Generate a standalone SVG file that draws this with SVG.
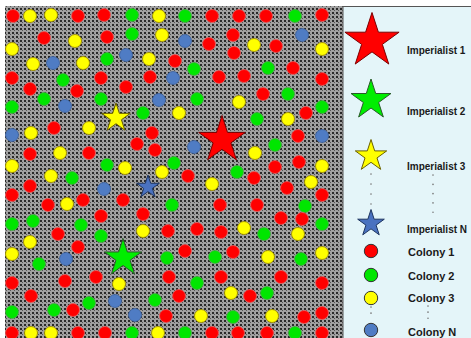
<svg xmlns="http://www.w3.org/2000/svg" xmlns:xlink="http://www.w3.org/1999/xlink" width="471" height="338" viewBox="0 0 471 338">
<style>
.r{fill:#ff0000;stroke:#e86060;stroke-width:0.8}
.g{fill:#00e600;stroke:#4aa84a;stroke-width:0.8}
.y{fill:#ffff00;stroke:#a09000;stroke-width:0.9}
.b{fill:#4f7cc4;stroke:#3b5f9a;stroke-width:0.8}
.sr{fill:#ff0000;stroke:#7a0000}
.sg{fill:#00ee00;stroke:#2a5a2a}
.sy{fill:#ffff00;stroke:#6a6000}
.sb{fill:#4a72c0;stroke:#1e3560}
.lc{stroke:#333;stroke-width:1}
.t{font-family:"Liberation Sans",Arial,sans-serif;font-weight:bold;font-size:11px;fill:#1a1a1a}
.ti{font-size:10px}
.dots{stroke:#777;stroke-width:1.6;stroke-linecap:round;fill:none}
</style>
<defs>
<pattern id="tex" width="4" height="4" patternUnits="userSpaceOnUse">
<rect width="4" height="4" fill="#a0a0a0"/>
<rect x="0" y="0" width="2" height="2" fill="#2a2a2a"/>
<rect x="2" y="2" width="1" height="1" fill="#555"/>
</pattern>
<path id="star" d="M0,-1 L0.2245,-0.309 L0.9511,-0.309 L0.3633,0.118 L0.5878,0.809 L0,0.382 L-0.5878,0.809 L-0.3633,0.118 L-0.9511,-0.309 L-0.2245,-0.309 Z" vector-effect="non-scaling-stroke" stroke-width="1"/>
</defs>
<rect width="471" height="338" fill="#ffffff"/>
<g id="map">
<rect x="5" y="6" width="338" height="332" fill="url(#tex)"/>
<g id="colonies">
<circle class="r" cx="13" cy="16" r="6.5"/><circle class="y" cx="30" cy="16" r="6.5"/><circle class="y" cx="51" cy="15" r="6.5"/><circle class="r" cx="78" cy="16" r="6.5"/><circle class="r" cx="104" cy="15" r="6.5"/><circle class="g" cx="132" cy="15" r="6.5"/><circle class="y" cx="159" cy="16" r="6.5"/><circle class="g" cx="185" cy="16" r="6.5"/><circle class="r" cx="212" cy="16" r="6.5"/><circle class="r" cx="239" cy="16" r="6.5"/><circle class="r" cx="266" cy="16" r="6.5"/><circle class="g" cx="295" cy="16" r="6.5"/><circle class="r" cx="322" cy="15" r="6.5"/>
<circle class="r" cx="44" cy="38" r="6.5"/><circle class="y" cx="75" cy="41" r="6.5"/><circle class="r" cx="107" cy="37" r="6.5"/><circle class="g" cx="132" cy="34" r="6.5"/><circle class="y" cx="12" cy="49" r="6.5"/><circle class="b" cx="126" cy="55" r="6.5"/><circle class="g" cx="107" cy="59" r="6.5"/><circle class="y" cx="149" cy="59" r="6.5"/><circle class="y" cx="33" cy="64" r="6.5"/><circle class="b" cx="53" cy="63" r="6.5"/><circle class="y" cx="83" cy="63" r="6.5"/><circle class="r" cx="12" cy="78" r="6.5"/><circle class="g" cx="63" cy="80" r="6.5"/><circle class="r" cx="101" cy="78" r="6.5"/><circle class="r" cx="126" cy="87" r="6.5"/><circle class="r" cx="150" cy="77" r="6.5"/><circle class="r" cx="30" cy="89" r="6.5"/><circle class="r" cx="77" cy="91" r="6.5"/><circle class="g" cx="44" cy="99" r="6.5"/><circle class="g" cx="101" cy="99" r="6.5"/><circle class="b" cx="159" cy="100" r="6.5"/><circle class="g" cx="12" cy="107" r="6.5"/><circle class="b" cx="65" cy="106" r="6.5"/><circle class="g" cx="143" cy="113" r="6.5"/>
<circle class="y" cx="162" cy="35" r="6.5"/><circle class="b" cx="185" cy="41" r="6.5"/><circle class="r" cx="209" cy="44" r="6.5"/><circle class="r" cx="233" cy="35" r="6.5"/><circle class="r" cx="234" cy="53" r="6.5"/><circle class="y" cx="254" cy="45" r="6.5"/><circle class="r" cx="276" cy="46" r="6.5"/><circle class="b" cx="302" cy="35" r="6.5"/><circle class="y" cx="322" cy="49" r="6.5"/><circle class="r" cx="175" cy="61" r="6.5"/><circle class="b" cx="173" cy="78" r="6.5"/><circle class="g" cx="194" cy="69" r="6.5"/><circle class="r" cx="219" cy="77" r="6.5"/><circle class="r" cx="244" cy="76" r="6.5"/><circle class="g" cx="268" cy="68" r="6.5"/><circle class="r" cx="293" cy="68" r="6.5"/><circle class="r" cx="322" cy="79" r="6.5"/><circle class="g" cx="197" cy="99" r="6.5"/><circle class="y" cx="239" cy="102" r="6.5"/><circle class="r" cx="263" cy="94" r="6.5"/><circle class="g" cx="288" cy="94" r="6.5"/><circle class="g" cx="322" cy="107" r="6.5"/><circle class="y" cx="179" cy="113" r="6.5"/><circle class="g" cx="257" cy="119" r="6.5"/><circle class="y" cx="288" cy="119" r="6.5"/><circle class="r" cx="306" cy="113" r="6.5"/>
<circle class="b" cx="12" cy="135" r="6.5"/><circle class="y" cx="31" cy="133" r="6.5"/><circle class="r" cx="54" cy="128" r="6.5"/><circle class="y" cx="89" cy="128" r="6.5"/><circle class="r" cx="152" cy="133" r="6.5"/><circle class="r" cx="137" cy="144" r="6.5"/><circle class="r" cx="155" cy="150" r="6.5"/><circle class="r" cx="30" cy="154" r="6.5"/><circle class="y" cx="60" cy="153" r="6.5"/><circle class="r" cx="89" cy="153" r="6.5"/><circle class="y" cx="12" cy="166" r="6.5"/><circle class="g" cx="107" cy="165" r="6.5"/><circle class="y" cx="125" cy="168" r="6.5"/><circle class="y" cx="51" cy="176" r="6.5"/><circle class="g" cx="72" cy="178" r="6.5"/><circle class="r" cx="30" cy="186" r="6.5"/><circle class="b" cx="104" cy="189" r="6.5"/><circle class="r" cx="12" cy="195" r="6.5"/><circle class="r" cx="48" cy="205" r="6.5"/><circle class="y" cx="67" cy="204" r="6.5"/><circle class="r" cx="83" cy="200" r="6.5"/><circle class="r" cx="123" cy="200" r="6.5"/><circle class="r" cx="101" cy="216" r="6.5"/><circle class="r" cx="143" cy="214" r="6.5"/><circle class="g" cx="12" cy="224" r="6.5"/><circle class="g" cx="33" cy="221" r="6.5"/><circle class="g" cx="81" cy="225" r="6.5"/><circle class="y" cx="143" cy="231" r="6.5"/><circle class="r" cx="58" cy="234" r="6.5"/><circle class="g" cx="101" cy="236" r="6.5"/><circle class="y" cx="30" cy="242" r="6.5"/>
<circle class="r" cx="298" cy="136" r="6.5"/><circle class="b" cx="322" cy="136" r="6.5"/><circle class="b" cx="194" cy="147" r="6.5"/><circle class="g" cx="275" cy="145" r="6.5"/><circle class="y" cx="255" cy="153" r="6.5"/><circle class="g" cx="174" cy="163" r="6.5"/><circle class="r" cx="299" cy="162" r="6.5"/><circle class="r" cx="275" cy="167" r="6.5"/><circle class="y" cx="322" cy="166" r="6.5"/><circle class="y" cx="162" cy="172" r="6.5"/><circle class="r" cx="188" cy="176" r="6.5"/><circle class="g" cx="237" cy="172" r="6.5"/><circle class="r" cx="254" cy="178" r="6.5"/><circle class="y" cx="212" cy="184" r="6.5"/><circle class="y" cx="311" cy="182" r="6.5"/><circle class="r" cx="287" cy="188" r="6.5"/><circle class="r" cx="322" cy="195" r="6.5"/><circle class="g" cx="172" cy="205" r="6.5"/><circle class="r" cx="220" cy="205" r="6.5"/><circle class="r" cx="257" cy="205" r="6.5"/><circle class="g" cx="305" cy="206" r="6.5"/><circle class="r" cx="281" cy="218" r="6.5"/><circle class="r" cx="302" cy="219" r="6.5"/><circle class="g" cx="322" cy="224" r="6.5"/><circle class="r" cx="168" cy="231" r="6.5"/><circle class="r" cx="197" cy="229" r="6.5"/><circle class="r" cx="221" cy="232" r="6.5"/><circle class="y" cx="244" cy="228" r="6.5"/><circle class="g" cx="264" cy="234" r="6.5"/><circle class="y" cx="298" cy="234" r="6.5"/>
<circle class="r" cx="78" cy="247" r="6.5"/><circle class="y" cx="12" cy="254" r="6.5"/><circle class="b" cx="66" cy="259" r="6.5"/><circle class="g" cx="167" cy="258" r="6.5"/><circle class="g" cx="39" cy="264" r="6.5"/><circle class="r" cx="12" cy="283" r="6.5"/><circle class="r" cx="65" cy="281" r="6.5"/><circle class="r" cx="96" cy="277" r="6.5"/><circle class="y" cx="119" cy="284" r="6.5"/><circle class="r" cx="169" cy="277" r="6.5"/><circle class="r" cx="31" cy="296" r="6.5"/><circle class="g" cx="89" cy="303" r="6.5"/><circle class="b" cx="115" cy="301" r="6.5"/><circle class="g" cx="155" cy="300" r="6.5"/><circle class="g" cx="12" cy="312" r="6.5"/><circle class="g" cx="54" cy="310" r="6.5"/><circle class="r" cx="73" cy="310" r="6.5"/><circle class="b" cx="135" cy="315" r="6.5"/><circle class="r" cx="166" cy="316" r="6.5"/>
<circle class="r" cx="12" cy="333" r="6.5"/><circle class="y" cx="31" cy="333" r="6.5"/><circle class="y" cx="51" cy="333" r="6.5"/><circle class="r" cx="78" cy="333" r="6.5"/><circle class="r" cx="105" cy="333" r="6.5"/><circle class="g" cx="132" cy="333" r="6.5"/><circle class="y" cx="158" cy="333" r="6.5"/>
<circle class="r" cx="185" cy="251" r="6.5"/><circle class="g" cx="215" cy="257" r="6.5"/><circle class="r" cx="233" cy="252" r="6.5"/><circle class="y" cx="268" cy="257" r="6.5"/><circle class="g" cx="301" cy="259" r="6.5"/><circle class="y" cx="322" cy="253" r="6.5"/><circle class="r" cx="221" cy="277" r="6.5"/><circle class="r" cx="281" cy="277" r="6.5"/><circle class="r" cx="322" cy="283" r="6.5"/><circle class="g" cx="197" cy="283" r="6.5"/><circle class="r" cx="179" cy="296" r="6.5"/><circle class="y" cx="231" cy="293" r="6.5"/><circle class="r" cx="250" cy="296" r="6.5"/><circle class="g" cx="267" cy="293" r="6.5"/><circle class="y" cx="201" cy="316" r="6.5"/><circle class="g" cx="233" cy="317" r="6.5"/><circle class="y" cx="272" cy="316" r="6.5"/><circle class="r" cx="304" cy="317" r="6.5"/><circle class="r" cx="322" cy="313" r="6.5"/>
<circle class="g" cx="185" cy="333" r="6.5"/><circle class="r" cx="212" cy="333" r="6.5"/><circle class="r" cx="238" cy="333" r="6.5"/><circle class="r" cx="267" cy="333" r="6.5"/><circle class="g" cx="295" cy="333" r="6.5"/><circle class="r" cx="322" cy="333" r="6.5"/>
</g>
<g id="imperialists">
<use xlink:href="#star" class="sr" transform="translate(222,140) scale(24.5)"/>
<use xlink:href="#star" class="sy" transform="translate(116,118) scale(15)"/>
<use xlink:href="#star" class="sb" transform="translate(148,187) scale(12)"/>
<use xlink:href="#star" class="sg" transform="translate(123,258) scale(19.5)"/>
</g>
</g>
<g id="legend">
<rect x="343" y="6.5" width="130" height="335" fill="#e4f5f9" stroke="#555" stroke-width="1"/>
<g id="leg-imp1"><use xlink:href="#star" class="sr" transform="translate(372,41) scale(28.5)"/><text class="t ti" x="407" y="54">Imperialist 1</text></g>
<g id="leg-imp2"><use xlink:href="#star" class="sg" transform="translate(371,100) scale(21)"/><text class="t ti" x="407" y="115">Imperialist 2</text></g>
<g id="leg-imp3"><use xlink:href="#star" class="sy" transform="translate(371,156) scale(16.5)"/><text class="t ti" x="407" y="170">Imperialist 3</text></g>
<line class="dots" x1="371" y1="174" x2="371" y2="204" stroke-dasharray="0.1 9.9"/>
<line class="dots" x1="433" y1="175" x2="433" y2="213" stroke-dasharray="0.1 9.2"/>
<g id="leg-impN"><use xlink:href="#star" class="sb" transform="translate(371,223.5) scale(14)"/><text class="t ti" x="407" y="233">Imperialist N</text></g>
<g id="leg-col1"><circle class="r lc" cx="371" cy="251" r="6.7"/><text class="t" x="408" y="256">Colony 1</text></g>
<g id="leg-col2"><circle class="g lc" cx="371" cy="275" r="6.7"/><text class="t" x="408" y="280">Colony 2</text></g>
<g id="leg-col3"><circle class="y lc" cx="371" cy="298" r="6.7"/><text class="t" x="408" y="302">Colony 3</text></g>
<line class="dots" x1="371" y1="307" x2="371" y2="314" stroke-dasharray="0.1 6"/>
<line class="dots" x1="428" y1="306" x2="428" y2="319" stroke-dasharray="0.1 6"/>
<g id="leg-colN"><circle class="b lc" cx="371" cy="330" r="6.7"/><text class="t" x="408" y="336">Colony N</text></g>
</g>
</svg>
